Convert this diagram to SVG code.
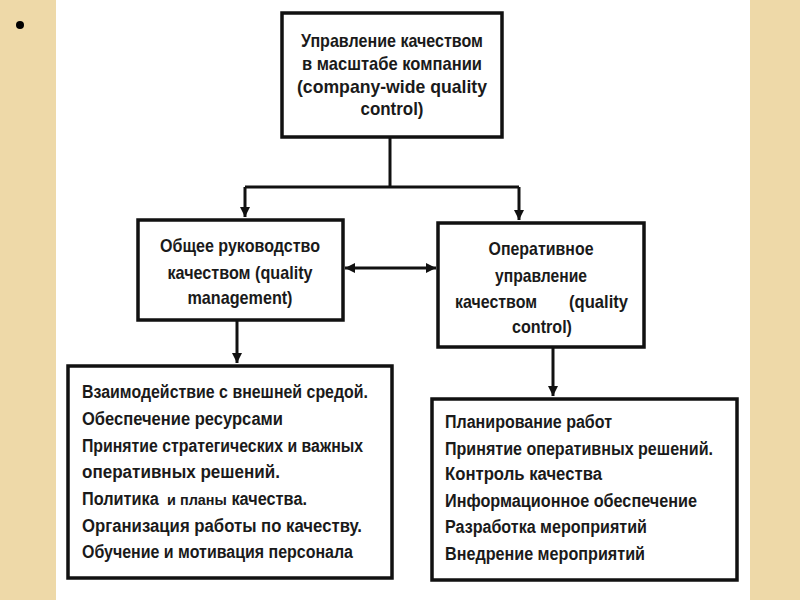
<svg xmlns="http://www.w3.org/2000/svg" width="800" height="600" viewBox="0 0 800 600">
<defs>
<marker id="ah" viewBox="0 0 10 10" refX="10" refY="5" markerWidth="10" markerHeight="10" markerUnits="userSpaceOnUse" orient="auto-start-reverse">
<path d="M0,0 L10,5 L0,10 z" fill="#111"/>
</marker>
<style>
.box{fill:#fff;stroke:#111;stroke-width:3.5}
.t{font-family:"Liberation Sans",Arial,sans-serif;font-weight:bold;font-size:18.5px;fill:#1a1a1a}
.c{text-anchor:middle}
.l{font-size:17.5px}
.con{fill:none;stroke:#111;stroke-width:3}
</style>
</defs>
<rect x="0" y="0" width="800" height="600" fill="#fff"/>
<rect x="0" y="0" width="56" height="600" fill="#eed9a8"/>
<rect x="750" y="0" width="50" height="600" fill="#eed9a8"/>
<circle cx="20" cy="25" r="4" fill="#000"/>

<g id="connectors">
<path class="con" d="M390,138 V187"/>
<path class="con" d="M245,187 H519"/>
<path class="con" d="M245,187 V217" marker-end="url(#ah)"/>
<path class="con" d="M519,187 V220" marker-end="url(#ah)"/>
<path class="con" d="M345,268 H436" marker-start="url(#ah)" marker-end="url(#ah)"/>
<path class="con" d="M237,321 V363" marker-end="url(#ah)"/>
<path class="con" d="M553,348 V396" marker-end="url(#ah)"/>
</g>

<g id="top">
<rect class="box" x="282" y="13" width="220" height="124"/>
<text class="t c" x="392" y="47" textLength="182" lengthAdjust="spacingAndGlyphs">Управление качеством</text>
<text class="t c" x="392" y="70" textLength="180" lengthAdjust="spacingAndGlyphs">в масштабе компании</text>
<text class="t c" x="392" y="93" textLength="190" lengthAdjust="spacingAndGlyphs">(company-wide quality</text>
<text class="t c" x="392" y="115" textLength="63" lengthAdjust="spacingAndGlyphs">control)</text>
</g>

<g id="general">
<rect class="box" x="138" y="220" width="205" height="100"/>
<text class="t c" x="240" y="252" textLength="160" lengthAdjust="spacingAndGlyphs">Общее руководство</text>
<text class="t c" x="240" y="279" textLength="145" lengthAdjust="spacingAndGlyphs">качеством (quality</text>
<text class="t c" x="240" y="304" textLength="105" lengthAdjust="spacingAndGlyphs">management)</text>
</g>

<g id="operative">
<rect class="box" x="438" y="223" width="206" height="124"/>
<text class="t c" x="541" y="255" textLength="105" lengthAdjust="spacingAndGlyphs">Оперативное</text>
<text class="t c" x="541" y="282" textLength="92" lengthAdjust="spacingAndGlyphs">управление</text>
<text class="t" x="455" y="308" textLength="82" lengthAdjust="spacingAndGlyphs">качеством</text>
<text class="t" x="569" y="308" textLength="59" lengthAdjust="spacingAndGlyphs">(quality</text>
<text class="t c" x="542" y="333" textLength="60" lengthAdjust="spacingAndGlyphs">control)</text>
</g>

<g id="general-list">
<rect class="box" x="68" y="366" width="324" height="212"/>
<text class="t l" x="82" y="398" textLength="286" lengthAdjust="spacingAndGlyphs">Взаимодействие с внешней средой.</text>
<text class="t l" x="82" y="425" textLength="201" lengthAdjust="spacingAndGlyphs">Обеспечение ресурсами</text>
<text class="t l" x="82" y="452" textLength="281" lengthAdjust="spacingAndGlyphs">Принятие стратегических и важных</text>
<text class="t l" x="82" y="478" textLength="198" lengthAdjust="spacingAndGlyphs">оперативных решений.</text>
<text class="t l" x="82" y="505" textLength="225" lengthAdjust="spacingAndGlyphs">Политика <tspan dx="4" font-size="15.5">и планы</tspan> качества.</text>
<text class="t l" x="82" y="532" textLength="280" lengthAdjust="spacingAndGlyphs">Организация работы по качеству.</text>
<text class="t l" x="82" y="558" textLength="271" lengthAdjust="spacingAndGlyphs">Обучение и мотивация персонала</text>
</g>

<g id="operative-list">
<rect class="box" x="432" y="399" width="305" height="181"/>
<text class="t l" x="445" y="428" textLength="167" lengthAdjust="spacingAndGlyphs">Планирование работ</text>
<text class="t l" x="445" y="455" textLength="268" lengthAdjust="spacingAndGlyphs">Принятие оперативных решений.</text>
<text class="t l" x="445" y="480" textLength="157" lengthAdjust="spacingAndGlyphs">Контроль качества</text>
<text class="t l" x="445" y="507" textLength="252" lengthAdjust="spacingAndGlyphs">Информационное обеспечение</text>
<text class="t l" x="445" y="533" textLength="202" lengthAdjust="spacingAndGlyphs">Разработка мероприятий</text>
<text class="t l" x="445" y="560" textLength="200" lengthAdjust="spacingAndGlyphs">Внедрение мероприятий</text>
</g>
</svg>
